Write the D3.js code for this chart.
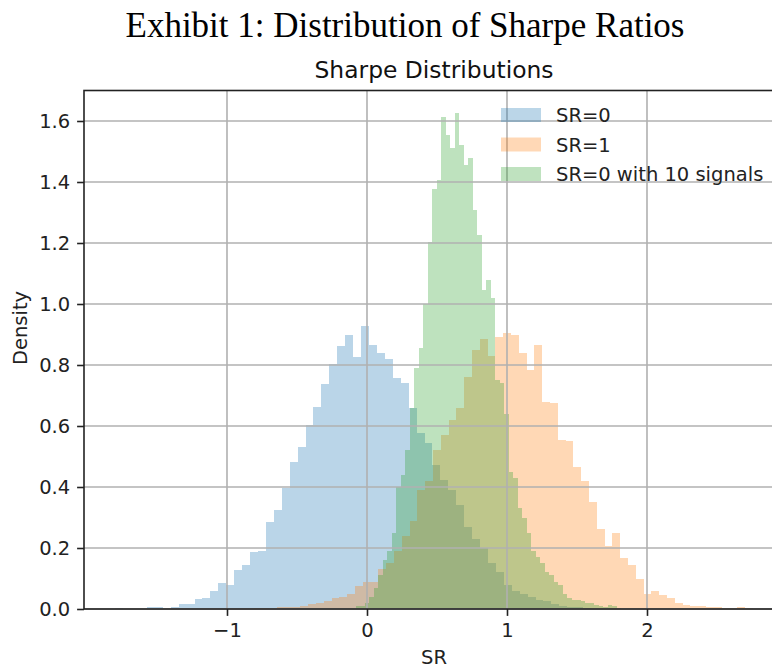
<!DOCTYPE html>
<html>
<head>
<meta charset="utf-8">
<script src="https://cdn.jsdelivr.net/npm/d3@7"></script>
<style>
  html, body { margin: 0; padding: 0; background: #fff; }
  svg { display: block; }
</style>
</head>
<body>
<svg id="chart" width="772" height="669"></svg>
<script>
// ---------------- data ----------------
const seriesNames = ["SR=0", "SR=1", "SR=0 with 10 signals"];
const seriesColors = ["#1f77b4", "#ff7f0e", "#2ca02c"];

// SR=0 histogram (density), uniform bins
const sr0Start = -1.79829;
const sr0Width = 0.056643;
const sr0Density = [0.004, 0, 0, 0, 0.008, 0.006, 0, 0.008, 0.016, 0.018,
  0.033, 0.036, 0.059, 0.086, 0.079, 0.128, 0.144, 0.188, 0.19, 0.286,
  0.325, 0.396, 0.483, 0.53, 0.603, 0.663, 0.738, 0.803, 0.862, 0.898,
  0.825, 0.928, 0.866, 0.840, 0.819, 0.756, 0.742, 0.658, 0.576, 0.544,
  0.472, 0.423, 0.39, 0.34, 0.27, 0.23, 0.20, 0.15, 0.12, 0.08,
  0.06, 0.05, 0.04, 0.03, 0.025, 0.015, 0.01, 0.008, 0.005, 0.003];

// SR=1 histogram
const sr1Start = -0.80929;
const sr1Width = 0.055714;
const sr1Density = [0.004, 0.003, 0, 0.006, 0.005, 0.008, 0.01, 0.015, 0.02, 0.025,
  0.035, 0.04, 0.05, 0.075, 0.09, 0.09, 0.13, 0.15, 0.19, 0.24,
  0.29, 0.39, 0.42, 0.52, 0.57, 0.62, 0.66, 0.76, 0.85, 0.885,
  0.83, 0.893, 0.904, 0.90, 0.839, 0.784, 0.866, 0.68, 0.675, 0.555,
  0.55, 0.465, 0.421, 0.352, 0.261, 0.207, 0.248, 0.166, 0.144, 0.10,
  0.049, 0.06, 0.046, 0.036, 0.021, 0.013, 0.01, 0.01, 0.005, 0.005,
  0.002, 0.002, 0.005, 0.003];

// SR=0 with 10 signals histogram
const sig10Start = -0.078571;
const sig10Width = 0.032143;
const sig10Density = [0.01, 0.01, 0.02, 0.04, 0.07, 0.11, 0.16, 0.19, 0.25, 0.40,
  0.44, 0.52, 0.66, 0.79, 0.856, 1.0, 1.204, 1.376, 1.407, 1.614,
  1.554, 1.51, 1.625, 1.52, 1.456, 1.478, 1.308, 1.226, 1.046, 1.079,
  1.02, 0.75, 0.74, 0.64, 0.45, 0.43, 0.33, 0.30, 0.25, 0.19,
  0.17, 0.15, 0.12, 0.11, 0.09, 0.08, 0.05, 0.035, 0.03, 0.03,
  0.025, 0.02, 0.02, 0.012, 0.01, 0.006, 0.012, 0.01, 0.004];

const xTicks = [-1, 0, 1, 2];
const xTickLabels = ["\u22121", "0", "1", "2"];
const yTicks = [0, 0.2, 0.4, 0.6, 0.8, 1.0, 1.2, 1.4, 1.6];
const yTickLabels = ["0.0", "0.2", "0.4", "0.6", "0.8", "1.0", "1.2", "1.4", "1.6"];

const figTitle = "Exhibit 1: Distribution of Sharpe Ratios";
const axTitle = "Sharpe Distributions";
const xLabel = "SR";
const yLabel = "Density";

// ---------------- layout ----------------
const plot = { left: 84, right: 784, top: 90.5, bottom: 609 };
const FONT = "'DejaVu Sans', sans-serif";
const FS = 19.5;
const tickLen = 6.9, tickPad = 6.9;

const svg = d3.select("#chart");

const x = d3.scaleLinear().domain([-2.0214, 2.9786]).range([plot.left, plot.right]);
const y = d3.scaleLinear().domain([0, 1.7]).range([plot.bottom, plot.top]);

// figure title
svg.append("text")
  .attr("x", 405).attr("y", 37)
  .attr("text-anchor", "middle")
  .style("font-family", "'Liberation Serif', 'Times New Roman', serif")
  .style("font-size", "35px")
  .attr("fill", "#000")
  .text(figTitle);

// axes title
svg.append("text")
  .attr("x", (plot.left + plot.right) / 2).attr("y", 78)
  .attr("text-anchor", "middle")
  .style("font-family", FONT)
  .style("font-size", (FS * 1.2) + "px")
  .attr("fill", "#111")
  .text(axTitle);

// ---------------- histograms ----------------
function bins(start, width, dens) {
  return dens.map((d, i) => ({ x0: start + i * width, x1: start + (i + 1) * width, d }));
}
const allSeries = [
  bins(sr0Start, sr0Width, sr0Density),
  bins(sr1Start, sr1Width, sr1Density),
  bins(sig10Start, sig10Width, sig10Density)
];

const barsG = svg.append("g");
allSeries.forEach((s, si) => {
  const g = barsG.append("g").attr("opacity", 0.3);
  g.selectAll("rect").data(s.filter(b => b.d > 0)).join("rect")
    .attr("x", b => x(b.x0))
    .attr("width", b => x(b.x1) - x(b.x0))
    .attr("y", b => y(b.d))
    .attr("height", b => y(0) - y(b.d))
    .attr("fill", seriesColors[si])
    .attr("shape-rendering", "crispEdges");
});

// ---------------- grid ----------------
const gridG = svg.append("g");
gridG.selectAll("line.vx").data(xTicks).join("line")
  .attr("x1", d => x(d)).attr("x2", d => x(d))
  .attr("y1", plot.top).attr("y2", plot.bottom)
  .attr("stroke", "#b0b0b0").attr("stroke-width", 1.6);
gridG.selectAll("line.hy").data(yTicks).join("line")
  .attr("x1", plot.left).attr("x2", plot.right)
  .attr("y1", d => y(d)).attr("y2", d => y(d))
  .attr("stroke", "#b0b0b0").attr("stroke-width", 1.6);

// ---------------- axes ----------------
const xAxis = d3.axisBottom(x).tickValues(xTicks)
  .tickFormat((d, i) => xTickLabels[i]).tickSize(tickLen).tickPadding(tickPad);
const yAxis = d3.axisLeft(y).tickValues(yTicks)
  .tickFormat((d, i) => yTickLabels[i]).tickSize(tickLen).tickPadding(tickPad);

const gx = svg.append("g").attr("transform", `translate(0,${plot.bottom})`).call(xAxis);
const gy = svg.append("g").attr("transform", `translate(${plot.left},0)`).call(yAxis);
[gx, gy].forEach(g => {
  g.select(".domain").remove();
  g.selectAll(".tick line").attr("stroke", "#222").attr("stroke-width", 1.6);
  g.selectAll(".tick text").attr("fill", "#222")
    .style("font-family", FONT).style("font-size", FS + "px");
});

// spines
const spines = svg.append("g").attr("fill", "none").attr("stroke", "#222").attr("stroke-width", 1.6);
spines.append("rect")
  .attr("x", plot.left).attr("y", plot.top)
  .attr("width", plot.right - plot.left).attr("height", plot.bottom - plot.top);

// axis labels
svg.append("text")
  .attr("x", (plot.left + plot.right) / 2).attr("y", 664)
  .attr("text-anchor", "middle")
  .style("font-family", FONT).style("font-size", FS + "px")
  .attr("fill", "#222")
  .text(xLabel);

svg.append("text")
  .attr("transform", `translate(27,328) rotate(-90)`)
  .attr("text-anchor", "middle")
  .style("font-family", FONT).style("font-size", FS + "px")
  .attr("fill", "#222")
  .text(yLabel);

// ---------------- legend ----------------
const legRows = [115, 144.5, 174];
const leg = svg.append("g");
seriesNames.forEach((name, i) => {
  leg.append("rect")
    .attr("x", 501).attr("y", legRows[i] - 7)
    .attr("width", 40).attr("height", 14)
    .attr("fill", seriesColors[i]).attr("fill-opacity", 0.3);
  leg.append("text")
    .attr("x", 556).attr("y", legRows[i] + 7)
    .style("font-family", FONT).style("font-size", FS + "px")
    .attr("fill", "#222")
    .text(name);
});
</script>
</body>
</html>
